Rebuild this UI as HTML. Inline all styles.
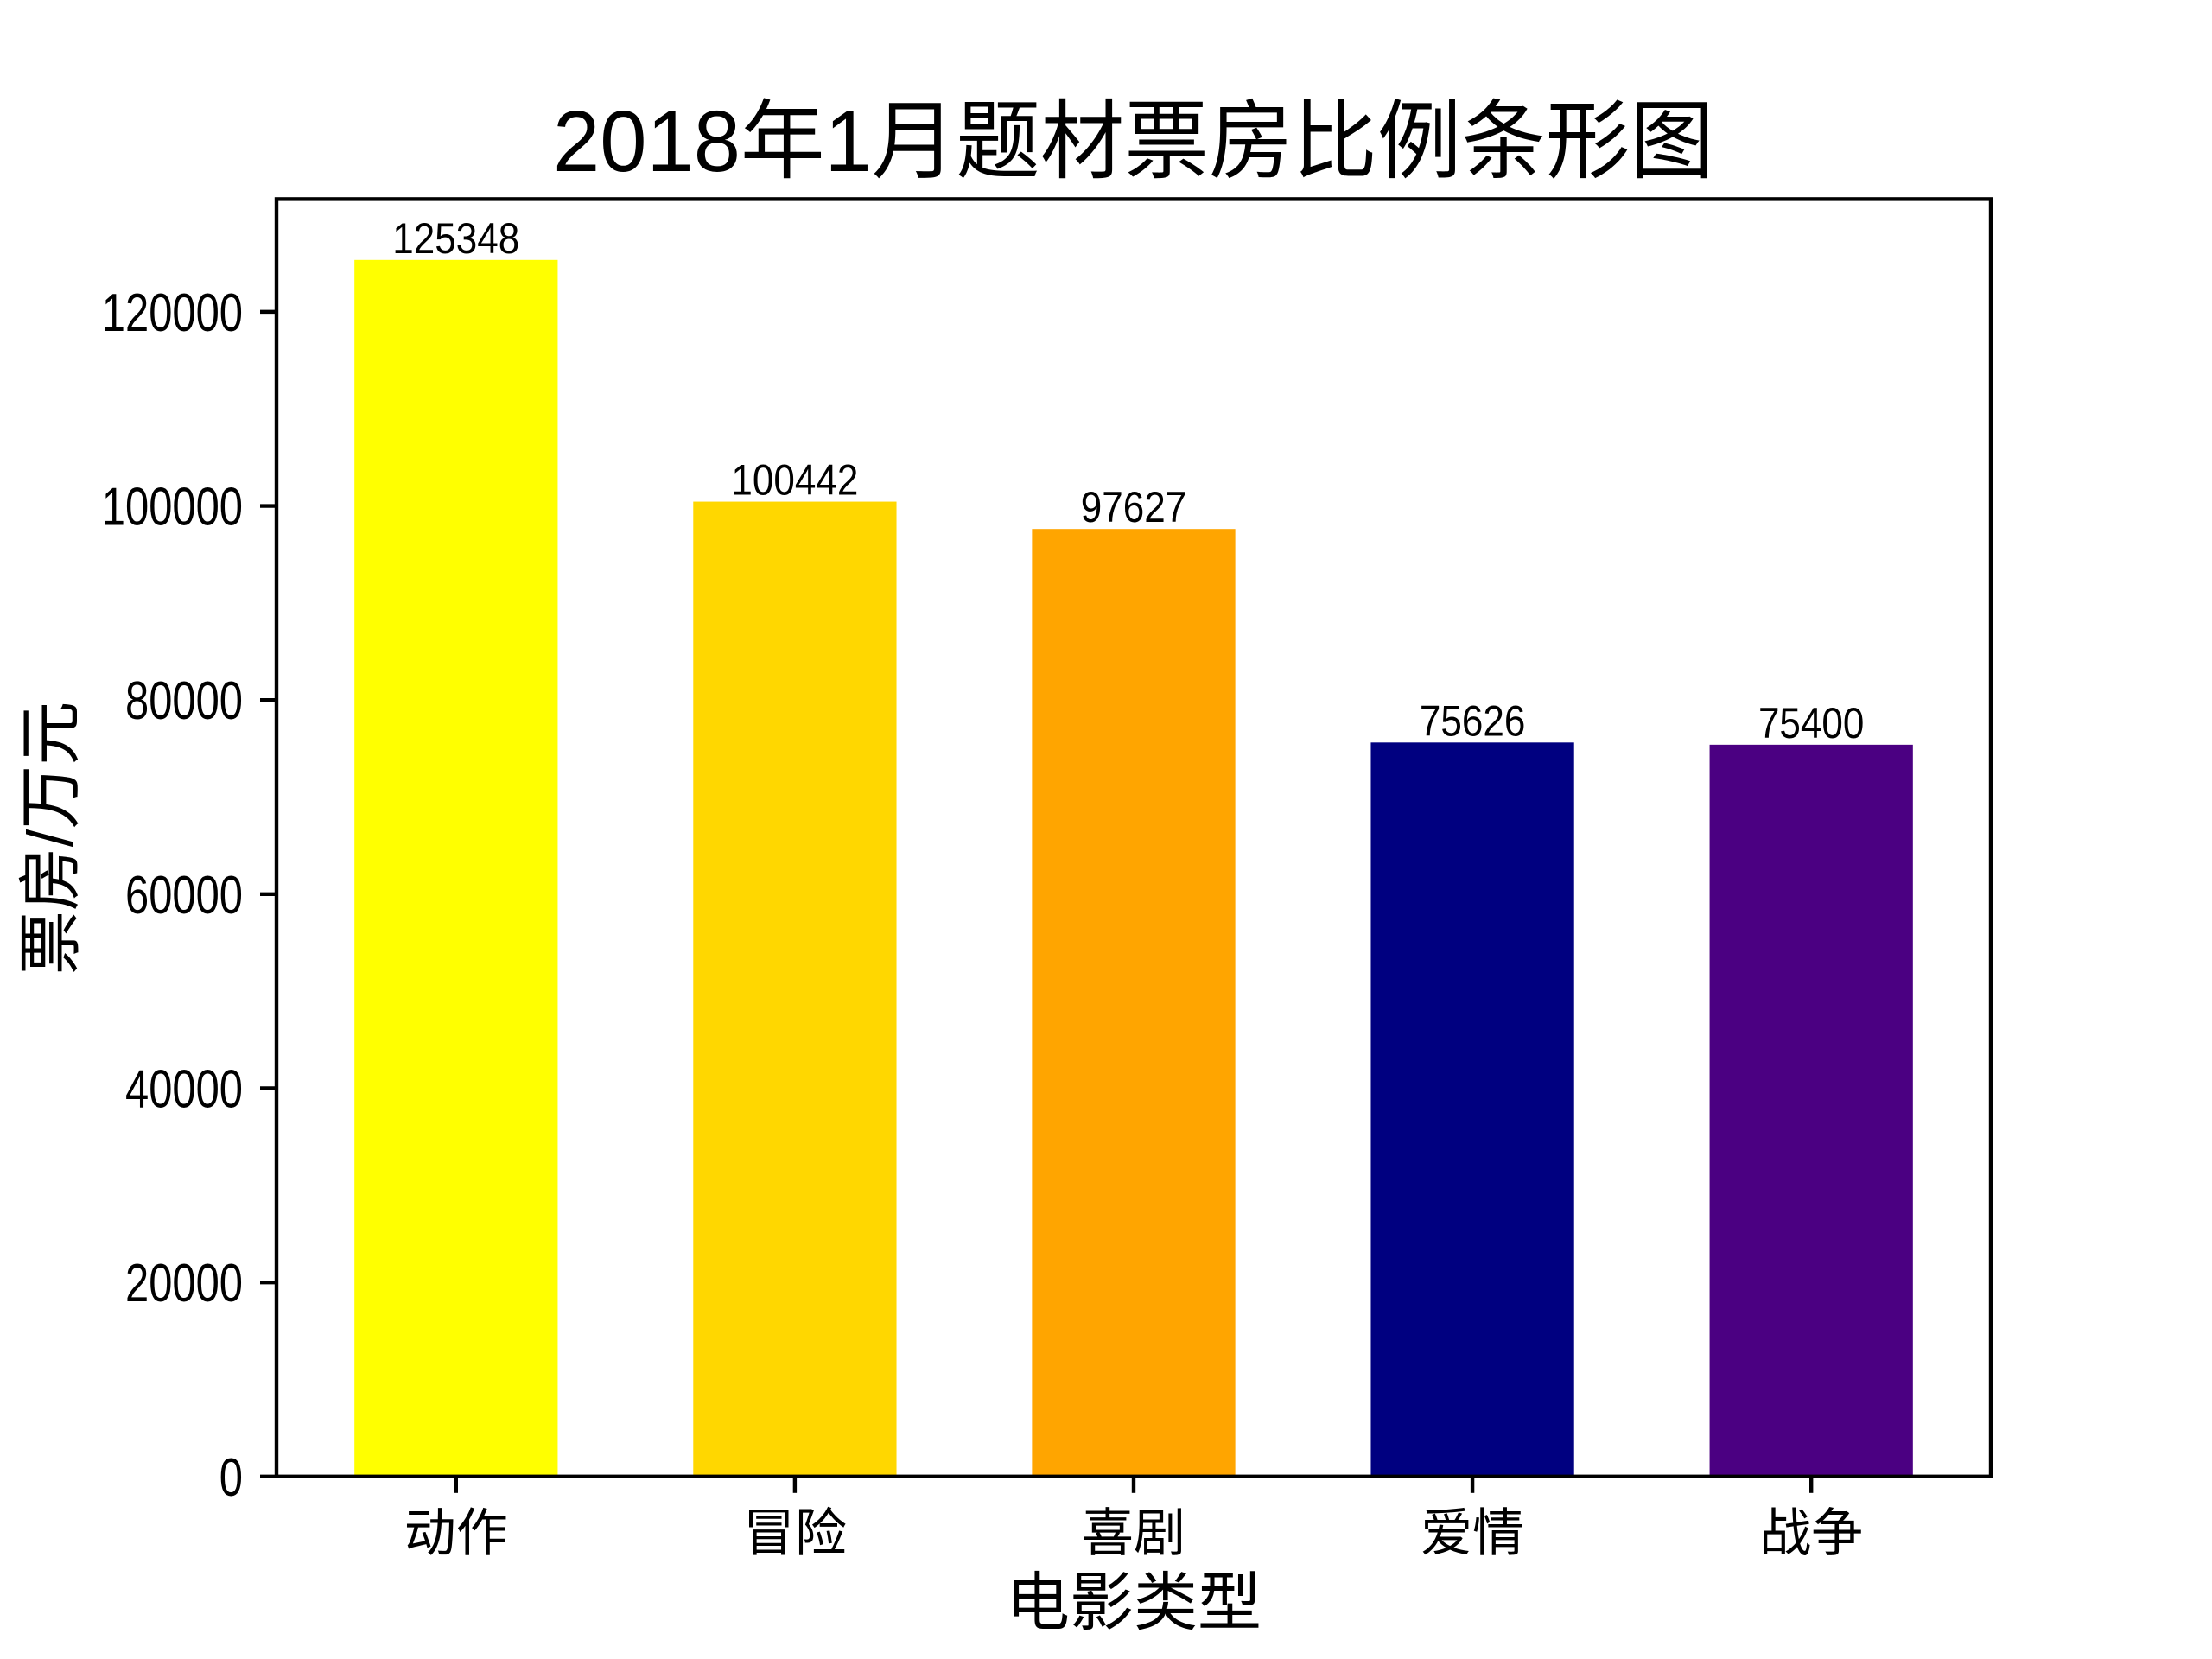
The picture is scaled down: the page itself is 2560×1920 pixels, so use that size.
<!DOCTYPE html>
<html><head><meta charset="utf-8"><style>
html,body{margin:0;padding:0;background:#fff;}
svg{display:block;font-family:"Liberation Sans","Noto Sans CJK SC",sans-serif;}
</style></head><body>
<svg id="chart" width="2560" height="1920" viewBox="0 0 2560 1920" xmlns="http://www.w3.org/2000/svg">
<rect width="2560" height="1920" fill="#fff"/>
<text x="1312" y="198" font-size="100" text-anchor="middle" textLength="1344" lengthAdjust="spacingAndGlyphs">2018年1月题材票房比例条形图</text>
<g id="bars"></g>
<g id="yticks"></g>
<g id="xticks"></g>
<rect x="320" y="230.4" width="1984" height="1478.4" fill="none" stroke="#000" stroke-width="4.4"/>
<text x="1312" y="1880" font-size="74" text-anchor="middle">电影类型</text>
<text transform="translate(84,970) rotate(-90)" font-size="74" text-anchor="middle">票房/万元</text>
</svg>
<script>
const categories = ["动作","冒险","喜剧","爱情","战争"];
const values = [125348,100442,97627,75626,75400];
const colors = ["#ffff00","#ffd700","#ffa500","#000080","#4b0082"];
const yTicks = [0,20000,40000,60000,80000,100000,120000];

const NS="http://www.w3.org/2000/svg";
const L=320,R=2304,T=230.4,B=1708.8;
const yMax=Math.max(...values)*1.05;
const xMin=-0.3-0.05*(categories.length-1+0.6), xMax=categories.length-1+0.3+0.05*(categories.length-1+0.6);
const xs=v=>L+(v-xMin)/(xMax-xMin)*(R-L);
const ys=v=>B-v/yMax*(B-T);
function mk(tag,attrs){const e=document.createElementNS(NS,tag);for(const k in attrs)e.setAttribute(k,attrs[k]);return e;}
const gb=document.getElementById('bars'),gy=document.getElementById('yticks'),gx=document.getElementById('xticks');
values.forEach((v,i)=>{
  const x0=xs(i-0.3),x1=xs(i+0.3);
  const r=mk('rect',{x:x0,y:ys(v),width:x1-x0,height:B-ys(v),fill:colors[i]});
  
  
  gb.appendChild(r);
  const s=String(v);
  const t=mk('text',{x:xs(i),y:ys(v)-8,'font-size':50,'text-anchor':'middle',textLength:s.length*24.5,lengthAdjust:'spacingAndGlyphs'});
  t.textContent=s;
  
  
  gb.appendChild(t);
  const tk=mk('line',{x1:xs(i),x2:xs(i),y1:B,y2:B+19,stroke:'#000','stroke-width':4.4});
  
  
  gx.appendChild(tk);
  const lb=mk('text',{x:xs(i),y:B+86,'font-size':60,'text-anchor':'middle'});
  lb.textContent=categories[i];
  
  
  gx.appendChild(lb);
});
yTicks.forEach(v=>{
  const tk=mk('line',{x1:L-19,x2:L,y1:ys(v),y2:ys(v),stroke:'#000','stroke-width':4.4});
  
  
  gy.appendChild(tk);
  const s=String(v);
  const lb=mk('text',{x:281,y:ys(v)+22,'font-size':62,'text-anchor':'end',textLength:s.length*27.2,lengthAdjust:'spacingAndGlyphs'});
  lb.textContent=s;
  
  
  gy.appendChild(lb);
});
</script>
</body></html>
